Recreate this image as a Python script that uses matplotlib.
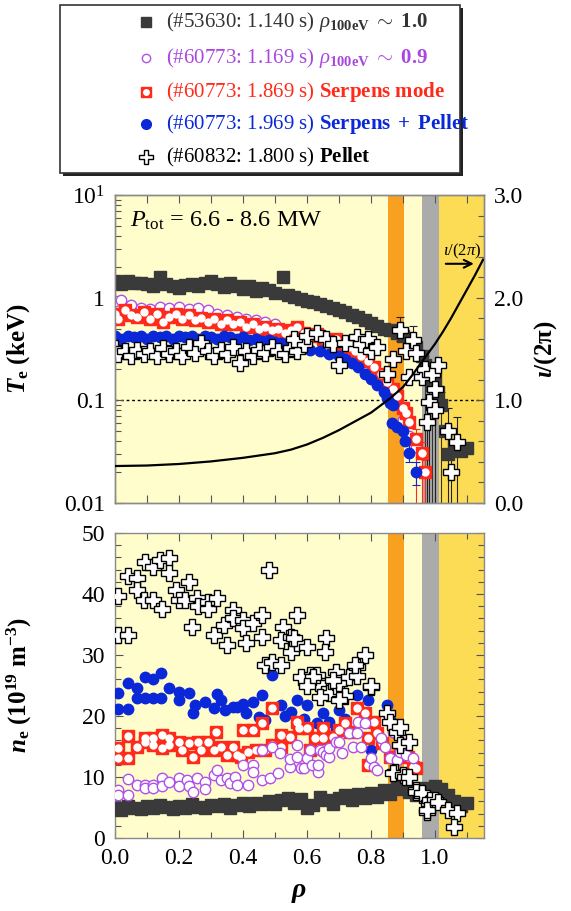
import numpy as np
import matplotlib
matplotlib.use("Agg")
import matplotlib.pyplot as plt
from matplotlib.lines import Line2D
from matplotlib.patches import Rectangle
from matplotlib.ticker import MultipleLocator, FixedLocator, FixedFormatter, NullFormatter, FormatStrFormatter

plt.rcParams['font.family'] = ['Liberation Serif', 'DejaVu Serif']
plt.rcParams['mathtext.fontset'] = 'custom'
plt.rcParams['mathtext.rm'] = 'Liberation Serif'
plt.rcParams['mathtext.it'] = 'Liberation Serif:italic'
plt.rcParams['mathtext.bf'] = 'Liberation Serif:bold'
plt.rcParams['mathtext.bfit'] = 'Liberation Serif:italic:bold'

# ---------------- data: Te (keV) ----------------
te_53630 = [(0.00,1.45),(0.02,1.35),(0.04,1.45),(0.06,1.38),(0.08,1.40),(0.10,1.35),(0.12,1.30),(0.14,1.60),
            (0.16,1.35),(0.18,1.30),(0.20,1.25),(0.22,1.32),(0.24,1.35),(0.26,1.30),(0.28,1.38),(0.30,1.45),
            (0.32,1.35),(0.34,1.28),(0.36,1.40),(0.38,1.30),(0.40,1.22),(0.42,1.30),(0.44,1.15),(0.46,1.25),
            (0.48,1.18),(0.50,1.10),(0.525,1.60),(0.54,1.05),(0.56,1.02),(0.58,0.98),(0.60,0.93),(0.62,0.90),
            (0.64,0.86),(0.66,0.83),(0.68,0.80),(0.70,0.76),(0.72,0.72),(0.74,0.68),(0.76,0.65),(0.78,0.60),
            (0.80,0.57),(0.82,0.53),(0.84,0.50),(0.86,0.48),(0.88,0.45),(0.90,0.42),(0.92,0.38),(0.94,0.33),
            (0.96,0.27),(0.97,0.22),(0.98,0.17),(0.99,0.14),(1.00,0.16),(1.01,0.12),(1.02,0.09),(1.03,0.05),
            (1.04,0.03),(1.06,0.035),(1.08,0.032),(1.10,0.034)]
te_1169 = [(0.00,0.92),(0.02,0.95),(0.05,0.85),(0.08,0.80),(0.11,0.78),(0.14,0.82),(0.17,0.80),(0.20,0.82),
           (0.23,0.78),(0.26,0.80),(0.29,0.75),(0.32,0.70),(0.35,0.68),(0.38,0.65),(0.41,0.62),(0.44,0.60),
           (0.47,0.58),(0.50,0.55),(0.55,0.50),(0.60,0.45),(0.65,0.42),(0.70,0.38),(0.75,0.32),(0.80,0.22),
           (0.84,0.15),(0.87,0.10),(0.90,0.065),(0.92,0.045),(0.94,0.035)]
te_1869 = [(0.00,0.70),(0.01,0.62),(0.03,0.75),(0.05,0.68),(0.07,0.65),(0.09,0.72),(0.11,0.62),(0.13,0.70),
           (0.15,0.58),(0.17,0.65),(0.19,0.70),(0.21,0.62),(0.23,0.68),(0.25,0.60),(0.27,0.64),(0.29,0.58),
           (0.31,0.62),(0.33,0.55),(0.35,0.60),(0.37,0.55),(0.39,0.58),(0.41,0.52),(0.43,0.56),(0.45,0.50),
           (0.47,0.52),(0.49,0.48),(0.51,0.50),(0.53,0.45),(0.55,0.48),(0.57,0.52),(0.59,0.45),(0.61,0.42),
           (0.63,0.44),(0.65,0.40),(0.67,0.38),(0.69,0.40),(0.71,0.35),(0.73,0.33),(0.75,0.30),(0.77,0.27),
           (0.79,0.24),(0.81,0.21),(0.83,0.18),(0.85,0.15),(0.87,0.13),(0.88,0.11),(0.90,0.085),(0.91,0.075),
           (0.92,0.062),(0.94,0.042),(0.96,0.031),(0.97,0.020)]
te_1969 = [(0.00,0.42),(0.02,0.40),(0.04,0.42),(0.06,0.41),(0.08,0.42),(0.10,0.40),(0.12,0.42),(0.14,0.41),
           (0.16,0.42),(0.18,0.40),(0.20,0.42),(0.22,0.41),(0.24,0.42),(0.26,0.40),(0.28,0.42),(0.30,0.41),
           (0.32,0.40),(0.34,0.42),(0.36,0.41),(0.38,0.40),(0.40,0.41),(0.42,0.39),(0.44,0.40),(0.46,0.38),
           (0.48,0.39),(0.50,0.37),(0.52,0.36),(0.55,0.34),(0.58,0.32),(0.61,0.31),(0.64,0.30),(0.67,0.28),
           (0.70,0.27),(0.72,0.25),(0.74,0.23),(0.76,0.21),(0.78,0.18),(0.80,0.16),(0.82,0.14),(0.84,0.12),
           (0.85,0.105),(0.86,0.095),(0.87,0.09),(0.865,0.06),(0.88,0.055),(0.90,0.05),(0.905,0.04),
           (0.92,0.031),(0.94,0.02)]
te_60832 = [(0.00,0.32),(0.01,0.28),(0.03,0.30),(0.05,0.27),(0.07,0.31),(0.09,0.28),(0.11,0.30),(0.13,0.27),
            (0.15,0.32),(0.17,0.28),(0.19,0.30),(0.21,0.27),(0.23,0.33),(0.25,0.29),(0.27,0.36),(0.29,0.30),
            (0.31,0.27),(0.33,0.31),(0.35,0.28),(0.37,0.33),(0.39,0.23),(0.41,0.30),(0.43,0.27),(0.45,0.31),
            (0.47,0.29),(0.49,0.33),(0.51,0.30),(0.53,0.28),(0.55,0.32),(0.57,0.30),(0.59,0.35),(0.56,0.40),
            (0.60,0.42),(0.63,0.45),(0.66,0.40),(0.68,0.35),(0.70,0.22),(0.72,0.36),(0.755,0.41),(0.77,0.35),
            (0.79,0.40),(0.80,0.30),(0.82,0.33),(0.85,0.18),(0.87,0.25),(0.89,0.48),(0.91,0.30),(0.93,0.39),
            (0.94,0.29),(0.92,0.17),(0.96,0.17),(0.97,0.20),(0.99,0.18),(1.01,0.22),(1.00,0.13),(0.98,0.097),
            (0.975,0.062),(1.00,0.08),(1.04,0.05),(1.07,0.039),(1.05,0.02)]

# error bars (rho, Te, lower, upper)
eb_53630 = [(0.97,0.22,0.21,0.05),(0.99,0.14,0.135,0.04),(1.00,0.16,0.155,0.05),(1.02,0.09,0.086,0.03)]
eb_1869 = [(0.94,0.042,0.036,0.01),(0.96,0.031,0.027,0.008),(0.97,0.020,0.016,0.006)]
eb_1969 = [(0.92,0.031,0.006,0.006),(0.94,0.02,0.005,0.005)]
eb_60832 = [(0.89,0.48,0.10,0.17),(0.93,0.39,0.08,0.14),(0.975,0.062,0.058,0.03),(0.98,0.097,0.093,0.03),
            (1.00,0.08,0.076,0.03),(1.04,0.05,0.046,0.035),(1.05,0.02,0.016,0.03),(1.07,0.039,0.035,0.03)]

# rotational transform iota/(2pi)
iota_rho = [0.0,0.1,0.2,0.3,0.4,0.5,0.55,0.6,0.65,0.7,0.75,0.8,0.83,0.86,0.9,0.93,0.96,1.0,
            1.025,1.05,1.075,1.1,1.125,1.15]
iota_val = [0.36,0.365,0.38,0.405,0.44,0.485,0.52,0.57,0.635,0.71,0.795,0.88,0.95,1.02,1.13,1.25,
            1.38,1.55,1.67,1.80,1.94,2.08,2.22,2.37]

# ---------------- data: ne (1e19 m^-3) ----------------
ne_53630 = [(0.00,5.0),(0.02,4.6),(0.04,5.2),(0.06,5.0),(0.08,4.8),(0.10,5.3),(0.12,5.0),(0.14,5.4),
            (0.16,5.1),(0.18,4.7),(0.20,5.2),(0.22,5.0),(0.24,5.5),(0.26,5.1),(0.28,4.9),(0.30,5.4),
            (0.32,5.2),(0.34,5.6),(0.36,5.0),(0.38,5.4),(0.40,5.7),(0.42,5.3),(0.44,5.8),(0.46,5.5),
            (0.48,6.0),(0.50,5.6),(0.52,6.2),(0.54,6.6),(0.56,5.8),(0.58,6.4),(0.60,5.0),(0.62,5.4),
            (0.64,6.8),(0.66,6.2),(0.68,5.6),(0.70,6.6),(0.72,7.0),(0.74,6.2),(0.76,7.2),(0.78,6.6),
            (0.80,7.4),(0.82,6.8),(0.84,7.8),(0.86,7.2),(0.88,8.4),(0.90,8.0),(0.92,7.6),(0.94,7.0),
            (0.96,8.2),(0.98,7.4),(1.00,8.6),(1.02,8.0),(1.04,7.0),(1.06,6.0),(1.08,5.2),(1.10,5.8)]
ne_1169 = [(0.01,7.9),(0.01,7.0),(0.04,9.7),(0.04,7.0),(0.07,8.7),(0.094,8.7),(0.094,8.2),(0.12,8.7),
           (0.12,8.2),(0.146,9.8),(0.146,8.5),(0.17,9.2),(0.20,9.8),(0.20,8.5),(0.225,9.5),(0.23,8.5),
           (0.245,7.5),(0.255,9.8),(0.28,9.2),(0.28,8.0),(0.31,10.3),(0.32,11.1),(0.33,9.5),(0.35,9.8),
           (0.36,9.0),(0.375,10.0),(0.38,8.7),(0.40,12.0),(0.415,8.7),(0.43,12.0),(0.43,10.8),(0.46,9.5),
           (0.46,14.4),(0.485,9.8),(0.49,15.0),(0.51,10.7),(0.515,14.0),(0.547,11.6),(0.547,13.0),(0.57,15.2),
           (0.57,13.3),(0.58,11.5),(0.59,11.5),(0.60,13.1),(0.61,14.4),(0.615,12.0),(0.635,10.8),(0.635,12.0),
           (0.64,14.4),(0.65,14.1),(0.66,13.6),(0.67,13.3),(0.67,14.8),(0.69,15.7),(0.70,15.7),(0.71,14.0),
           (0.73,17.2),(0.745,15.0),(0.755,17.2),(0.76,19.0),(0.77,15.0),(0.78,18.8),(0.80,13.1),(0.81,11.6),
           (0.82,11.1),(0.83,16.4),(0.845,15.0),(0.85,20.5),(0.86,13.1),(0.87,17.4),(0.88,12.8),(0.89,14.1),
           (0.90,15.6),(0.91,13.6),(0.93,13.1)]
ne_1869 = [(0.01,14.8),(0.01,13.1),(0.04,16.7),(0.04,13.1),(0.07,15.0),(0.094,16.4),(0.094,15.7),(0.12,16.4),
           (0.12,15.3),(0.146,16.9),(0.146,14.8),(0.17,16.4),(0.17,15.2),(0.20,15.7),(0.21,14.4),(0.23,15.6),
           (0.245,13.3),(0.26,15.7),(0.27,14.4),(0.29,15.7),(0.31,14.4),(0.315,17.4),(0.33,15.0),(0.35,13.6),
           (0.37,15.0),(0.38,13.6),(0.395,13.3),(0.40,17.7),(0.415,14.1),(0.43,17.7),(0.44,14.4),(0.46,18.8),
           (0.47,14.4),(0.49,21.3),(0.49,15.2),(0.52,16.9),(0.52,15.0),(0.547,16.6),(0.57,19.0),(0.575,18.0),
           (0.60,18.0),(0.61,14.4),(0.625,16.4),(0.65,18.0),(0.65,16.4),(0.68,16.6),(0.70,17.7),(0.72,18.8),
           (0.735,17.4),(0.755,21.3),(0.78,20.5),(0.79,16.4),(0.79,12.0),(0.81,19.0),(0.82,17.2),(0.835,15.6),
           (0.86,13.3),(0.89,14.4),(0.915,13.3),(0.93,11.6),(0.94,11.5)]
ne_1969 = [(0.01,23.8),(0.01,21.1),(0.04,21.1),(0.04,25.4),(0.07,24.6),(0.07,23.0),(0.094,26.4),(0.12,26.0),
           (0.145,27.0),(0.094,23.0),(0.12,23.0),(0.145,23.0),(0.17,24.6),(0.20,24.0),(0.20,22.6),(0.23,23.8),
           (0.245,20.5),(0.25,21.8),(0.28,22.3),(0.31,21.3),(0.32,23.6),(0.33,22.6),(0.345,21.0),(0.37,21.5),
           (0.38,21.5),(0.40,22.0),(0.41,20.5),(0.43,22.3),(0.45,19.8),(0.46,23.4),(0.49,26.7),(0.47,19.3),
           (0.52,21.8),(0.53,20.0),(0.55,20.7),(0.57,22.6),(0.59,19.5),(0.60,21.8),(0.63,18.9),(0.65,20.5),
           (0.67,19.0),(0.69,17.7),(0.70,21.0),(0.72,19.5),(0.755,23.4),(0.79,22.6),(0.85,21.8),(0.86,19.3),
           (0.88,17.0),(0.80,14.5)]
ne_60832 = [(0.01,39.7),(0.01,33.3),(0.04,33.3),(0.04,43.0),(0.07,42.6),(0.07,40.7),(0.09,39.0),(0.094,45.2),
            (0.12,39.0),(0.12,44.4),(0.14,45.6),(0.146,37.5),(0.17,45.9),(0.17,43.4),(0.19,40.7),(0.20,39.0),
            (0.23,42.0),(0.22,39.0),(0.24,34.6),(0.255,39.3),(0.26,38.0),(0.29,38.7),(0.29,37.5),(0.32,39.3),
            (0.31,33.3),(0.34,35.0),(0.35,31.6),(0.37,37.4),(0.37,36.1),(0.40,35.7),(0.40,34.5),(0.41,32.0),
            (0.43,35.2),(0.46,36.6),(0.46,33.0),(0.48,44.0),(0.47,28.4),(0.49,28.8),(0.52,28.4),(0.525,34.6),
            (0.52,32.5),(0.55,33.0),(0.55,30.5),(0.57,36.6),(0.57,32.0),(0.60,31.3),(0.61,26.7),(0.635,25.4),
            (0.63,26.7),(0.66,32.8),(0.655,30.5),(0.67,23.8),(0.64,23.1),(0.69,27.2),(0.69,25.0),(0.56,32.8),
            (0.58,26.4),(0.62,26.4),(0.60,25.0),(0.70,25.4),(0.68,25.9),(0.73,26.4),(0.755,28.0),(0.755,26.6),
            (0.78,30.0),(0.80,24.8),(0.72,23.2),(0.70,22.6),(0.80,25.0),(0.75,28.4),(0.85,20.5),(0.86,19.0),
            (0.88,17.4),(0.89,15.2),(0.89,18.2),(0.92,15.7),(0.875,10.8),(0.87,10.6),(0.90,10.3),(0.905,10.0),
            (0.92,10.0),(0.94,7.9),(0.94,7.5),(0.96,7.0),(0.96,7.4),(0.98,5.7),(0.985,6.2),(1.00,6.2),
            (0.975,4.3),(0.975,4.6),(1.01,5.9),(1.04,4.6),(1.07,4.1),(1.06,1.8)]

# ---------------- style ----------------
c_bg = '#FFFDCB'
c_orange = '#F8A020'
c_gray = '#ABABAB'
c_yellow = '#FCDC55'
c_black = '#3A3A3A'
c_purple = '#B050E8'
c_red = '#FF2A1A'
c_blue = '#0A28D8'
fs_tick = 17

fig = plt.figure(figsize=(5.71, 9.11), dpi=100)
ax1 = fig.add_axes([115/571, 1-503/911, 369/571, 308/911])
ax3 = fig.add_axes([115/571, 1-838/911, 369/571, 305/911])

def arr(p):
    a = np.array(p, dtype=float)
    return a[:, 0], a[:, 1]

def bands(ax):
    ax.set_facecolor(c_bg)
    ax.axvspan(0.853, 0.903, color=c_orange, lw=0, zorder=0)
    ax.axvspan(0.96, 1.012, color=c_gray, lw=0, zorder=0)
    ax.axvspan(1.012, 1.2, color=c_yellow, lw=0, zorder=0)

def style(ax):
    for s in ax.spines.values():
        s.set_color('#8A8A8A')
        s.set_linewidth(1.0)
    ax.tick_params(which='both', direction='in', top=True, right=True, colors='#555555',
                   labelcolor='black', labelsize=fs_tick, pad=7)
    ax.tick_params(which='major', length=6, width=0.8)
    ax.tick_params(which='minor', length=4, width=0.8)

def errs(ax, eb, color):
    a = np.array(eb, dtype=float)
    ax.errorbar(a[:, 0], a[:, 1], yerr=[a[:, 2], a[:, 3]], fmt='none', ecolor=color,
                elinewidth=0.8, capsize=3, capthick=0.8, zorder=2)

# ---------- top panel ----------
bands(ax1)
ax1.set_yscale('log')
ax1.set_xlim(0, 1.153)
ax1.set_ylim(0.01, 10)
ax1.axhline(0.1, color='black', ls=(0, (2, 2)), lw=1.0, zorder=1)

errs(ax1, eb_53630, '#333333')
errs(ax1, eb_1869, c_red)
errs(ax1, eb_1969, c_blue)
errs(ax1, eb_60832, '#222222')

x, y = arr(te_53630)
ax1.plot(x, y, 's', ms=8, color=c_black, mec=c_black, zorder=3)
x, y = arr(te_1169)
ax1.plot(x, y, 'o', ms=7.5, mfc='white', mec=c_purple, mew=1.0, zorder=4)
x, y = arr(te_1869)
ax1.plot(x, y, 's', ms=8, mfc=c_red, mec=c_red, zorder=5)
ax1.plot(x, y, 'o', ms=6, mfc='white', mec='white', mew=0, zorder=5)
x, y = arr(te_1969)
ax1.plot(x, y, 'o', ms=7.5, color=c_blue, mec=c_blue, zorder=6)
x, y = arr(te_60832)
ax1.plot(x, y, 'P', ms=11, mfc='white', mec='black', mew=1.0, zorder=7)

ax1.yaxis.set_major_locator(FixedLocator([0.01, 0.1, 1, 10]))
ax1.yaxis.set_major_formatter(FixedFormatter(['0.01', '0.1', '1', r'$10^1$']))
ax1.xaxis.set_major_locator(MultipleLocator(0.1))
ax1.xaxis.set_major_formatter(NullFormatter())
style(ax1)
ax1.tick_params(right=False, which='both')
ax1.set_ylabel(r'$\mathbfit{T}_{\mathbf{e}}\ \mathbf{(keV)}$', fontsize=18)
ax1.yaxis.set_label_coords(-0.225, 0.5)

ax2 = ax1.twinx()
ax2.set_ylim(0, 3.0)
ax2.plot(iota_rho, iota_val, color='black', lw=1.6, zorder=8)
ax2.yaxis.set_major_locator(FixedLocator([0, 1, 2, 3]))
ax2.yaxis.set_major_formatter(FixedFormatter(['0.0', '1.0', '2.0', '3.0']))
ax2.yaxis.set_minor_locator(MultipleLocator(0.2))
style(ax2)
ax2.tick_params(left=False, top=False, which='both')
ax2.set_ylabel(r'$\mathbfit{\iota}\mathbf{/(2\pi)}$', fontsize=18, rotation=90)
ax2.yaxis.set_label_coords(1.13, 0.5)

ax1.text(0.04, 0.915, r'$P_{\rm tot}$ = 6.6 - 8.6 MW', transform=ax1.transAxes, fontsize=17.5,
         ha='left', va='center')
ax2.text(1.085, 2.45, r'$\iota/(2\pi)$', fontsize=12, ha='center', va='center')
ax2.annotate('', xy=(1.13, 2.33), xytext=(1.025, 2.33),
             arrowprops=dict(arrowstyle='->', color='black', lw=1.5, mutation_scale=14))

# ---------- bottom panel ----------
bands(ax3)
ax3.set_xlim(0, 1.153)
ax3.set_ylim(0, 50)
x, y = arr(ne_53630)
ax3.plot(x, y, 's', ms=8, color=c_black, mec=c_black, zorder=3)
x, y = arr(ne_1969)
ax3.plot(x, y, 'o', ms=7.5, color=c_blue, mec=c_blue, zorder=4)
x, y = arr(ne_1869)
ax3.plot(x, y, 's', ms=8, mfc=c_red, mec=c_red, zorder=5)
ax3.plot(x, y, 'o', ms=6, mfc='white', mec='white', mew=0, zorder=5)
x, y = arr(ne_1169)
ax3.plot(x, y, 'o', ms=7.5, mfc='white', mec=c_purple, mew=1.0, zorder=6)
x, y = arr(ne_60832)
ax3.plot(x, y, 'P', ms=11, mfc='white', mec='black', mew=1.0, zorder=7)

ax3.xaxis.set_major_locator(MultipleLocator(0.2))
ax3.xaxis.set_minor_locator(MultipleLocator(0.1))
ax3.xaxis.set_major_formatter(FormatStrFormatter('%.1f'))
ax3.yaxis.set_major_locator(MultipleLocator(10))
ax3.yaxis.set_minor_locator(MultipleLocator(2))
style(ax3)
ax3.set_ylabel(r'$\mathbfit{n}_{\mathbf{e}}\ \mathbf{(10^{19}\ m^{-3})}$', fontsize=18)
ax3.yaxis.set_label_coords(-0.22, 0.5)
ax3.set_xlabel(r'$\mathbfit{\rho}$', fontsize=20, labelpad=8)

# ---------- legend (figure coords) ----------
W, H = 571, 911
def fx(px): return px / W
def fy(py): return 1 - py / H

fig.add_artist(Rectangle((fx(63), fy(176)), fx(460) - fx(60), fy(5) - fy(173),
                         transform=fig.transFigure, facecolor='#222222', edgecolor='none', zorder=1))
fig.add_artist(Rectangle((fx(60), fy(173)), fx(460) - fx(60), fy(5) - fy(173),
                         transform=fig.transFigure, facecolor='white', edgecolor='#333333', lw=1.2, zorder=2))

rows_y = [22, 58, 92, 124, 157]
leg_labels = [r'(#53630: 1.140 s) $\rho_{\mathbf{100eV}}\ \mathbf{\sim\ 1.0}$',
              r'(#60773: 1.169 s) $\rho_{\mathbf{100eV}}\ \mathbf{\sim\ 0.9}$',
              r'(#60773: 1.869 s) $\mathbf{Serpens\ mode}$',
              r'(#60773: 1.969 s) $\mathbf{Serpens\ +\ Pellet}$',
              r'(#60832: 1.800 s) $\mathbf{Pellet}$']
leg_colors = ['#333333', '#A848E0', c_red, c_blue, 'black']
mk = [dict(marker='s', ms=7, color=c_black, mec=c_black),
      dict(marker='o', ms=6, mfc='white', mec=c_purple, mew=1.0),
      dict(marker='s', ms=7, mfc=c_red, mec=c_red),
      dict(marker='o', ms=7, color=c_blue, mec=c_blue),
      dict(marker='P', ms=10, mfc='white', mec='black', mew=1.0)]
for yy, lab, col, m in zip(rows_y, leg_labels, leg_colors, mk):
    fig.add_artist(Line2D([fx(146)], [fy(yy)], transform=fig.transFigure, ls='none', zorder=3, **m))
    fig.text(fx(166), fy(yy), lab, color=col, fontsize=15, ha='left', va='center', zorder=3)
fig.add_artist(Line2D([fx(146)], [fy(92)], transform=fig.transFigure, ls='none', marker='o', ms=5,
                      mfc='white', mec='white', mew=0, zorder=4))

fig.savefig('out.png', dpi=100)
